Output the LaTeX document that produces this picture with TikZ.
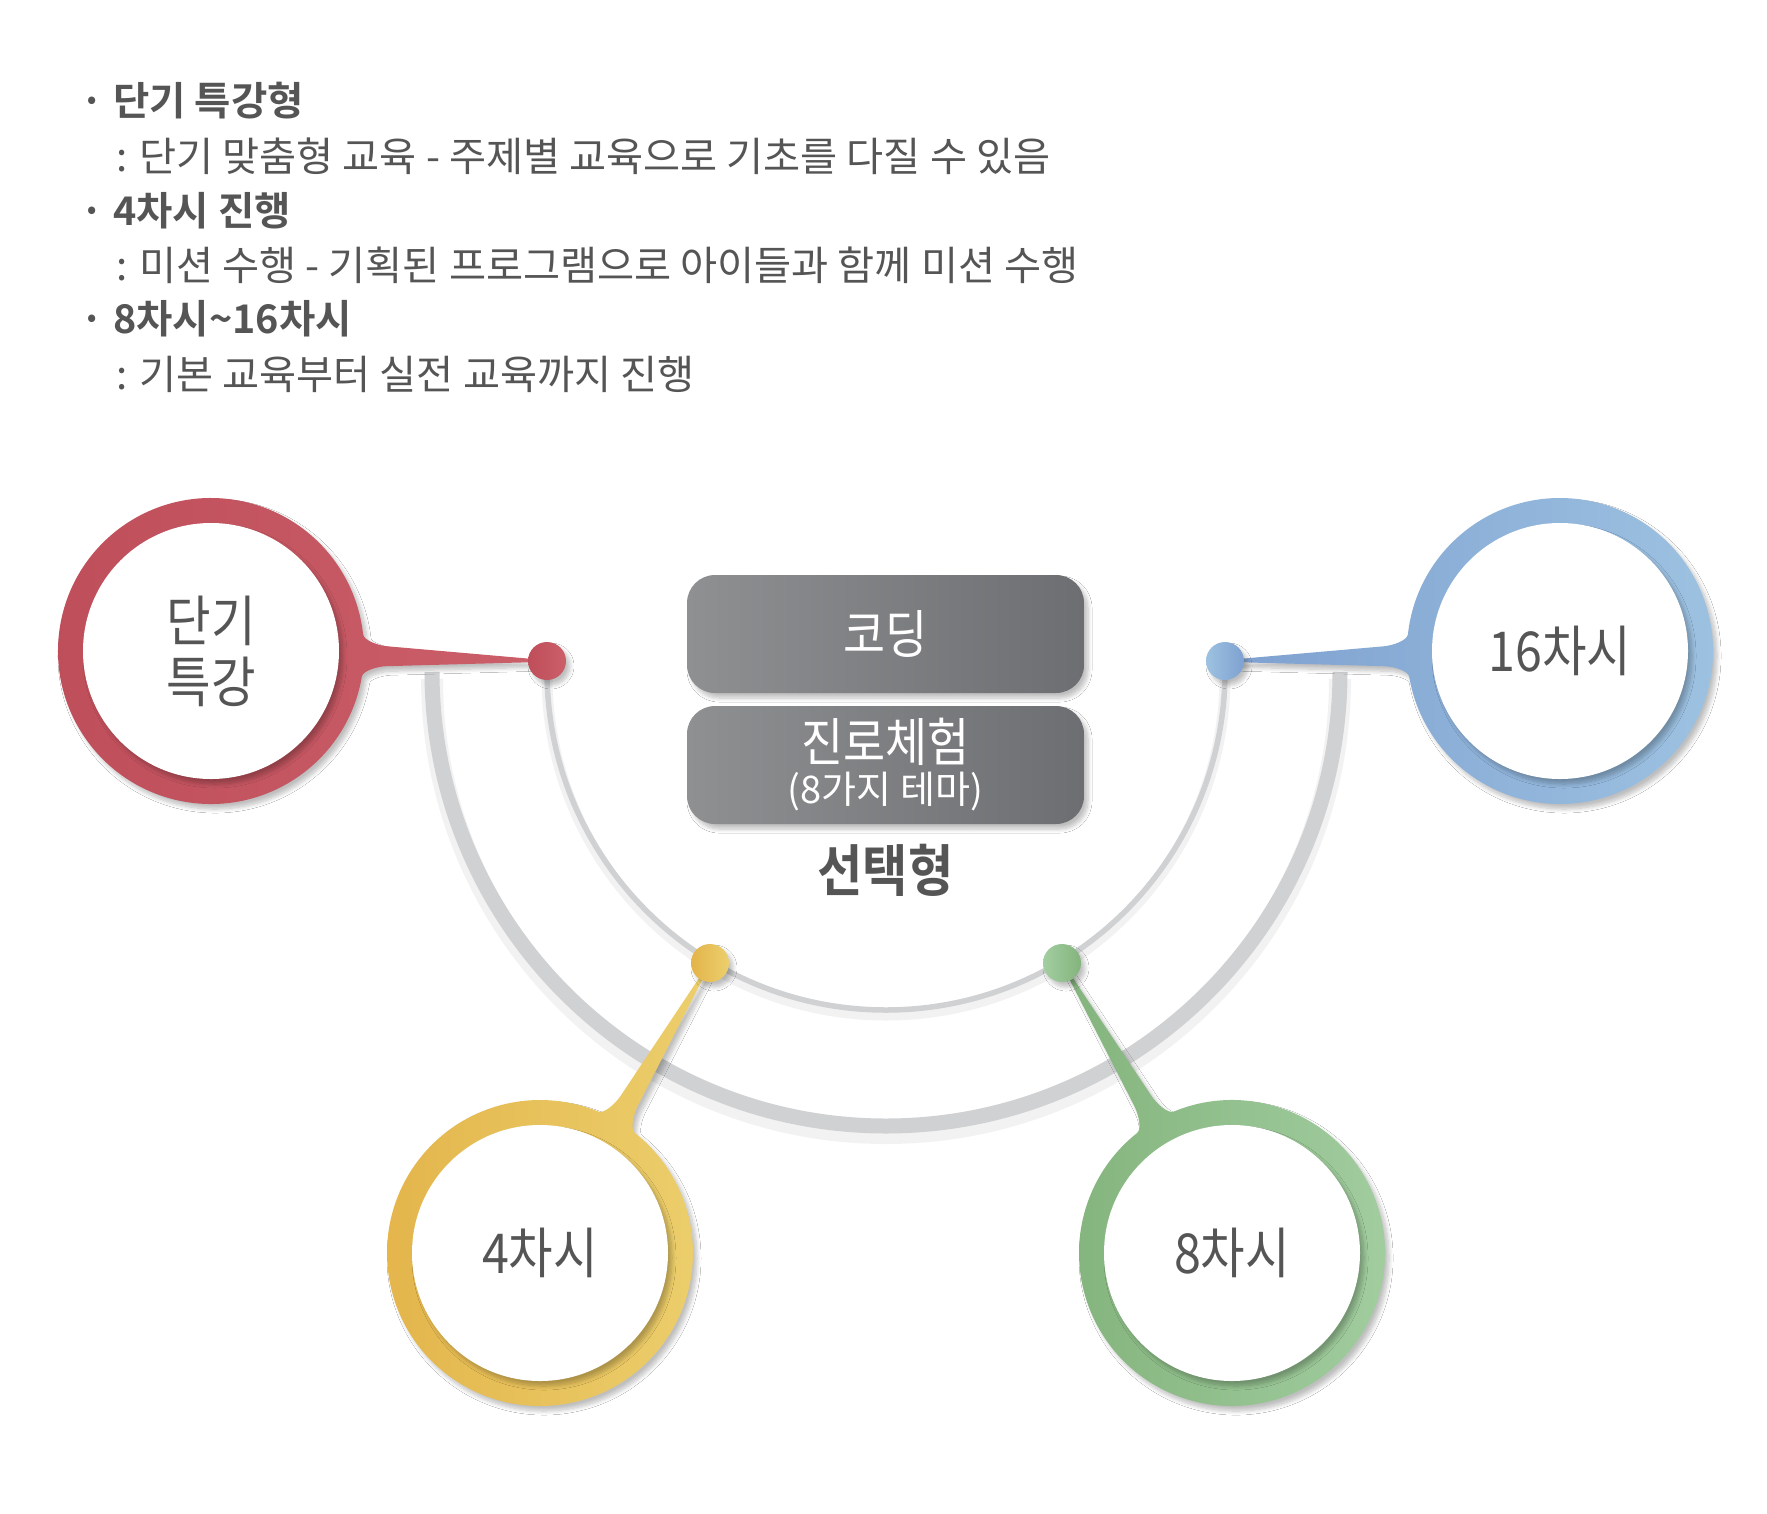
\documentclass[tikz,border=0pt]{standalone}
\usepackage{fontspec}
\setmainfont{Noto Sans CJK KR}[BoldFont={Noto Sans CJK KR Bold}]
\newfontfamily\narrowfont{Noto Sans CJK KR}[FakeStretch=0.88,BoldFont={Noto Sans CJK KR Bold}]
\usetikzlibrary{calc,shadows.blur}
\pgfdeclarelayer{back}
\pgfsetlayers{back,main}
\definecolor{ink}{HTML}{555555}
\definecolor{arcgray}{HTML}{D0D1D3}
\definecolor{boxL}{HTML}{8F9092}
\definecolor{boxR}{HTML}{6D6E71}
\definecolor{redL}{HTML}{BE4E5A}
\definecolor{redR}{HTML}{CB5F69}
\definecolor{bluL}{HTML}{7FA1D0}
\definecolor{bluR}{HTML}{9DC2E1}
\definecolor{yelL}{HTML}{E3B44A}
\definecolor{yelR}{HTML}{ECCF6D}
\definecolor{grnL}{HTML}{84B47D}
\definecolor{grnR}{HTML}{A3CEA1}

\begin{document}
\begin{tikzpicture}[x=1pt,y=-1pt,
    softshadow/.style={blur shadow={shadow xshift=4pt,shadow yshift=-5pt,
        shadow blur radius=4pt,shadow blur steps=8,shadow opacity=25}},%
    bubble/.style={circle,fill=white,minimum size=256pt,inner sep=0pt,
      align=center,text=ink,font=\narrowfont\fontsize{55}{61}\selectfont,
      softshadow},%
    bead/.style={circle,minimum size=38pt,inner sep=0pt,softshadow},%
    ring/.style={softshadow},%
    tile/.style={rounded corners=28pt,minimum width=397pt,minimum height=118pt,
      left color=boxL,right color=boxR,text=white,
      font=\narrowfont\fontsize{52}{56}\selectfont,softshadow},%
    listline/.style={anchor=west,inner sep=0pt,text=ink,
      font=\fontsize{40.3}{44}\selectfont},%
    listhead/.style={listline,font=\bfseries\fontsize{39.5}{44}\selectfont},%
    thinarc/.style={draw=arcgray,line width=5.5pt},%
    thickarc/.style={draw=arcgray,line width=15pt},%
    halo/.style={draw=black,opacity=0.05}%
  ]
  \useasboundingbox (0,0) rectangle (1767,1513);
  %% list at the top
  \node[listhead] (head1) at (92,101) {\makebox[0pt]{·}\hspace{21pt}단기 특강형};
  \node[listline] (text1) at (116,156) {: 단기 맞춤형 교육 - 주제별 교육으로 기초를 다질 수 있음};
  \node[listhead] (head2) at (92,211) {\makebox[0pt]{·}\hspace{21pt}4차시 진행};
  \node[listline] (text2) at (116,265) {: 미션 수행 - 기획된 프로그램으로 아이들과 함께 미션 수행};
  \node[listhead] (head3) at (92,319) {\makebox[0pt]{·}\hspace{21pt}8차시\textasciitilde 16차시};
  \node[listline] (text3) at (116,374) {: 기본 교육부터 실전 교육까지 진행};
  %% bubbles
  \node[bubble] (short) at (211,651) {단기\\특강};
  \node[bubble] (sixteen) at (1560,651) {16차시};
  \node[bubble] (four) at (540,1253) {4차시};
  \node[bubble] (eight) at (1232,1253) {8차시};
  %% pins on the inner arc
  \node[bead,left color=redL,right color=redR] (pshort) at (547,661) {};
  \node[bead,left color=bluR,right color=bluL] (psixteen) at (1225,661) {};
  \node[bead,left color=yelL,right color=yelR] (pfour) at (710,963) {};
  \node[bead,left color=grnR,right color=grnL] (peight) at (1062,963) {};
  %% middle boxes
  \node[tile] (coding) at (885.5,634) {코딩};
  \node[tile,align=center] (career) at (885.5,765)
    {진로체험\\[-14pt]{\normalfont\fontsize{38}{40}\selectfont(8가지 테마)}};
  \node[text=ink,font=\narrowfont\bfseries\fontsize{56}{60}\selectfont]
    (choice) at (885.5,870) {선택형};
  %% behind everything
  \begin{pgfonlayer}{back}
    \fill[white] (0,0) rectangle (1767,1513);
    %% arcs
    \draw[halo,line width=22pt] (432,679) arc[start angle=180,end angle=360,radius=454pt];
    \draw[thickarc] (432,672) arc[start angle=180,end angle=360,radius=454pt];
    \draw[halo,line width=11pt] ([yshift=-15pt]pshort.center)
      arc[start angle=180,end angle=360,radius=339pt];
    \draw[thinarc] ([yshift=-10pt]pshort.center)
      arc[start angle=180,end angle=360,radius=339pt];
    %% rings with tails
    \foreach \bub/\pin/\colL/\colR in
    {short/pshort/redL/redR,four/pfour/yelL/yelR,
      eight/peight/grnL/grnR,sixteen/psixteen/bluL/bluR} {%
      \shade[ring,left color=\colL,right color=\colR]
      let \p1=($(\pin.center)-(\bub.center)$), \n1={atan2(\y1,\x1)} in
      ($(\bub.center)+(\n1+8:153pt)$)
      .. controls ($(\bub.center)+(\n1+5.8:153pt)$)
      and ($(\bub.center)+(\n1+3.7:166pt)$) .. ($(\bub.center)+(\n1+3.25:176pt)$)
      -- ($(\bub.center)+(\n1+0.25:325pt)$) -- ($(\bub.center)+(\n1-0.25:325pt)$)
      -- ($(\bub.center)+(\n1-3.25:176pt)$)
      .. controls ($(\bub.center)+(\n1-3.7:166pt)$)
      and ($(\bub.center)+(\n1-5.8:153pt)$) .. ($(\bub.center)+(\n1-8:153pt)$)
      arc[start angle=\n1-8,end angle=\n1-352,radius=153pt] -- cycle;%
    }%
  \end{pgfonlayer}
\end{tikzpicture}
\end{document}
